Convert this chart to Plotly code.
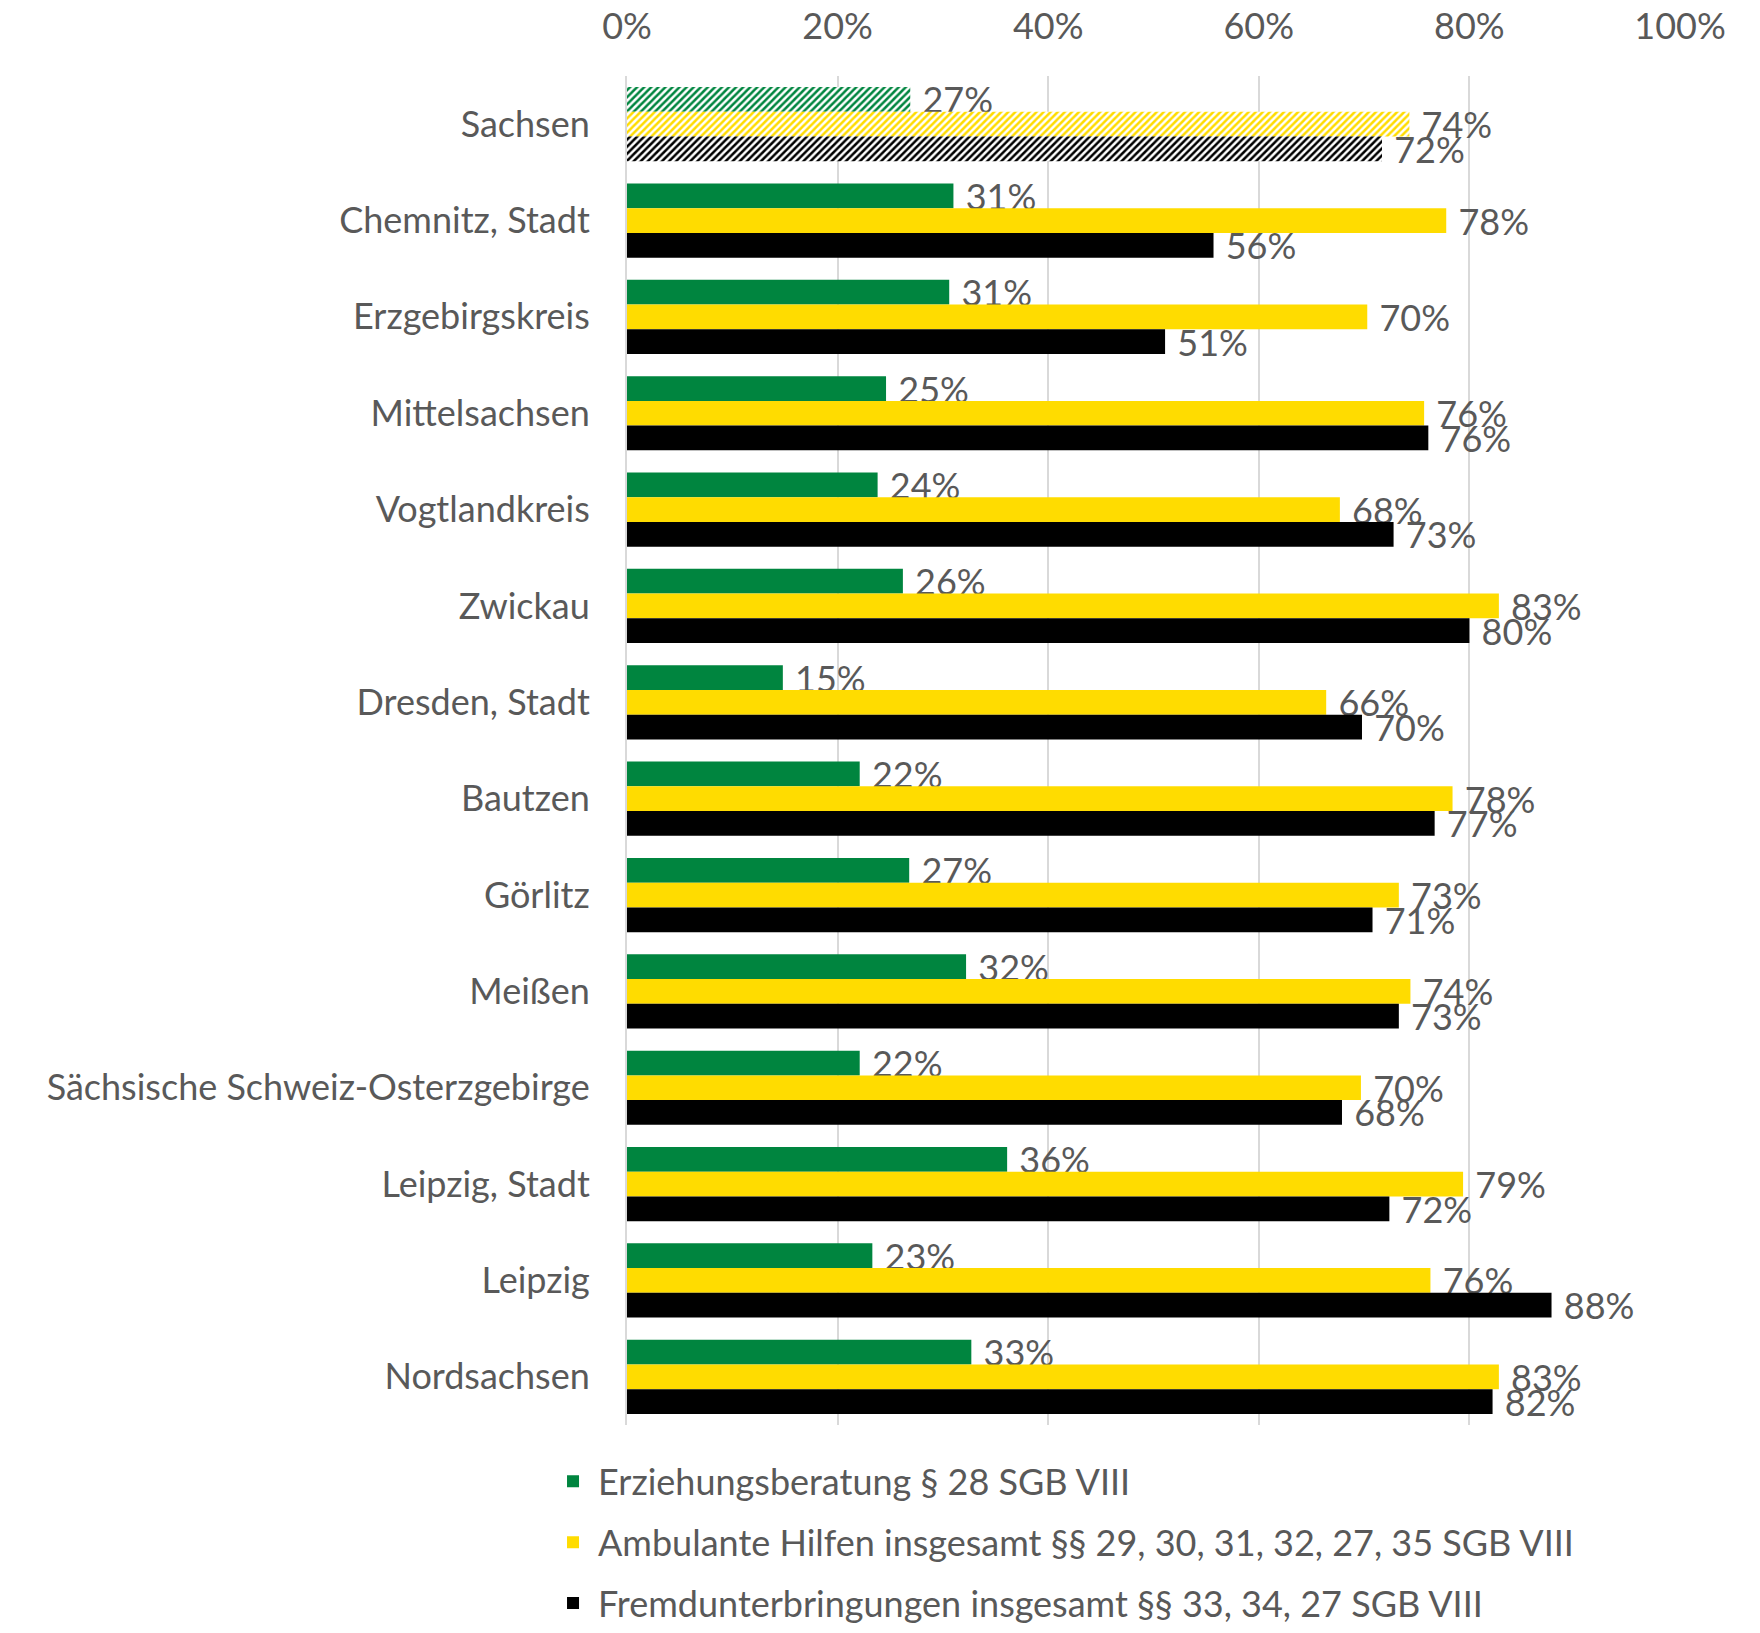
import plotly.graph_objects as go

categories = ["Sachsen", "Chemnitz, Stadt", "Erzgebirgskreis", "Mittelsachsen", "Vogtlandkreis",
              "Zwickau", "Dresden, Stadt", "Bautzen", "Görlitz", "Meißen",
              "Sächsische Schweiz-Osterzgebirge", "Leipzig, Stadt", "Leipzig", "Nordsachsen"]

erziehung = [0.269, 0.310, 0.306, 0.246, 0.238, 0.262, 0.148, 0.221, 0.268, 0.322, 0.221, 0.361, 0.233, 0.327]
ambulant = [0.743, 0.778, 0.703, 0.757, 0.677, 0.828, 0.664, 0.784, 0.733, 0.744, 0.697, 0.794, 0.763, 0.828]
fremd = [0.717, 0.557, 0.511, 0.761, 0.728, 0.800, 0.698, 0.767, 0.708, 0.733, 0.679, 0.724, 0.878, 0.822]

series_names = ["Erziehungsberatung § 28 SGB VIII",
                "Ambulante Hilfen insgesamt §§ 29, 30, 31, 32, 27, 35 SGB VIII",
                "Fremdunterbringungen insgesamt §§ 33, 34, 27 SGB VIII"]
colors = ["#00853F", "#FFDC00", "#000000"]

x_ticks = [0, 0.2, 0.4, 0.6, 0.8, 1.0]
x_ticklabels = ["0%", "20%", "40%", "60%", "80%", "100%"]

FONT = "Lato"
GREY = "#595959"
FS = 36

# Put the hatched total (Sachsen) last in the trace data so legend swatches are solid
def reorder(vals):
    return vals[1:] + vals[:1]

ycats = reorder(categories)
shapes = [""] * (len(categories) - 1) + ["/"]

fig = go.Figure()
for name, vals, col in zip(series_names, [erziehung, ambulant, fremd], colors):
    fig.add_trace(go.Bar(
        y=ycats, x=reorder(vals), orientation="h", name=name,
        legendgroup=name,
        marker=dict(color=col, line=dict(width=0),
                    pattern=dict(shape=shapes, fgcolor=col, bgcolor="white",
                                 size=5, solidity=0.5, fillmode="replace")),
        text=[f" {round(v * 100)}%" for v in reorder(vals)], texttemplate="%{text}",
        textposition="outside",
        textfont=dict(family=FONT, size=FS, color=GREY),
        constraintext="none", cliponaxis=False,
    ))

fig.update_layout(
    width=1752, height=1625,
    barmode="group", bargap=0.23, bargroupgap=0,
    plot_bgcolor="white", paper_bgcolor="white",
    margin=dict(l=619, r=80, t=68, b=208, autoexpand=False),
    font=dict(family=FONT, size=FS, color=GREY),
    showlegend=True,
    legend=dict(orientation="v", x=-0.075, y=-0.0196, xanchor="left", yanchor="top",
                font=dict(family=FONT, size=FS, color=GREY),
                tracegroupgap=11, itemwidth=40, traceorder="grouped"),
    xaxis=dict(side="top", range=[0, 1.0], tickvals=x_ticks, ticktext=x_ticklabels,
               showgrid=True, gridcolor="#D9D9D9", gridwidth=2, zeroline=False,
               showline=False, ticks="outside", ticklen=22, tickcolor="rgba(0,0,0,0)",
               automargin=False,
               tickfont=dict(family=FONT, size=FS, color=GREY)),
    yaxis=dict(categoryorder="array", categoryarray=categories, autorange="reversed",
               showgrid=False, zeroline=False, showline=True, linecolor="#D9D9D9", linewidth=2,
               ticks="outside", ticklen=28, tickcolor="rgba(0,0,0,0)", automargin=False,
               tickfont=dict(family=FONT, size=FS, color=GREY)),
)

fig.write_html("out.html")
